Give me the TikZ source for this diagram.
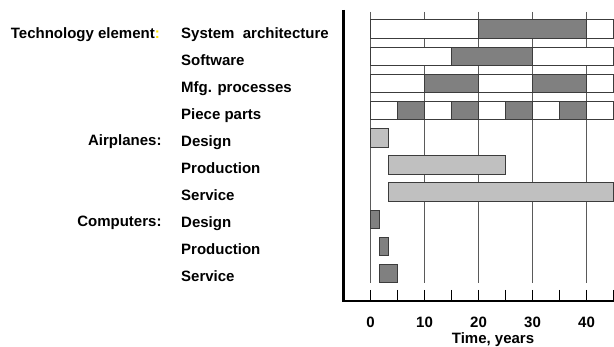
\documentclass[tikz,border=0pt]{standalone}
\usepackage{fontspec}
\setmainfont{Liberation Sans}
\definecolor{gridgray}{RGB}{90,90,90}
\definecolor{bordergray}{RGB}{60,60,60}
\definecolor{darkfill}{RGB}{128,128,128}
\definecolor{lightfill}{RGB}{192,192,192}
\definecolor{colonyellow}{RGB}{255,225,0}
\newcommand\gx[1]{370.5+5.4*(#1)}
\newcommand\gbar[5]{\node[#5, minimum width={5.4*(#3-#2)}, minimum height=18.5, anchor=west] (#1) at ({\gx{#2}},{29.2+27.16*#4}) {};}
\begin{document}
\begin{tikzpicture}[x=1pt,y=-1pt,
  lbl/.style={font=\fontsize{15}{18}\selectfont\bfseries, inner sep=0pt},
  gridline/.style={draw=gridgray, line width=0.9pt},
  cell/.style={draw=bordergray, line width=0.9pt, fill=white, inner sep=0pt, outer sep=0pt},
  darkcell/.style={cell, fill=darkfill},
  lightcell/.style={cell, fill=lightfill},
  axisline/.style={line width=2.8pt, black},
  tickline/.style={line width=1.8pt, black}]
\useasboundingbox (0,0) rectangle (614,347);
% grid lines
\foreach \k in {0,10,20,30,40} {
  \coordinate (gt\k) at ({\gx{\k}},12);
  \coordinate (gb\k) at ({\gx{\k}},283);
  \draw[gridline] (gt\k) -- (gb\k);
}
% technology rows: white background cells
\foreach \r in {0,1,2,3} { \gbar{w\r}{0}{45}{\r}{cell} }
% dark segments
\gbar{sa}{20}{40}{0}{darkcell}
\gbar{sw}{15}{30}{1}{darkcell}
\gbar{mfa}{10}{20}{2}{darkcell}
\gbar{mfb}{30}{40}{2}{darkcell}
\gbar{ppa}{5}{10}{3}{darkcell}
\gbar{ppb}{15}{20}{3}{darkcell}
\gbar{ppc}{25}{30}{3}{darkcell}
\gbar{ppd}{35}{40}{3}{darkcell}
% airplanes
\gbar{ad}{0}{3.4}{4}{lightcell}
\gbar{ap}{3.4}{25}{5}{lightcell}
\gbar{as}{3.4}{45}{6}{lightcell}
% computers
\gbar{cd}{0}{1.7}{7}{darkcell}
\gbar{cp}{1.7}{3.4}{8}{darkcell}
\gbar{cs}{1.7}{5}{9}{darkcell}
% axes
\coordinate (ytop) at (343.3,10);
\coordinate (origin) at (343.3,301);
\coordinate (xend) at (614,301);
\draw[axisline] (ytop) -- (origin) -- (xend);
\foreach \k in {0,5,...,45} {
  \coordinate (tk\k) at ({\gx{\k}},290);
  \coordinate (tb\k) at ({\gx{\k}},301);
  \draw[tickline] (tk\k) -- (tb\k);
}
\foreach \k in {0,10,20,30,40} {
  \node[lbl, anchor=base] (tl\k) at ({\gx{\k}},327.3) {\k};
}
\node[lbl, anchor=base] (xlabel) at (493,344) {Time, years};
% left labels
\node[lbl, anchor=base east] (tech) at (160,38.3) {Technology element{\color{colonyellow}:}};
\node[lbl, anchor=base east] (air) at (161.7,145.7) {Airplanes:};
\node[lbl, anchor=base east] (comp) at (161.7,227) {Computers:};
% row labels
\foreach \t [count=\i from 0] in {System\ \ architecture, Software, Mfg. processes, Piece parts, Design, Production, Service, Design, Production, Service} {
  \node[lbl, anchor=base west] (rl\i) at (181,{38.3+27.05*\i}) {\t};
}
\end{tikzpicture}
\end{document}
